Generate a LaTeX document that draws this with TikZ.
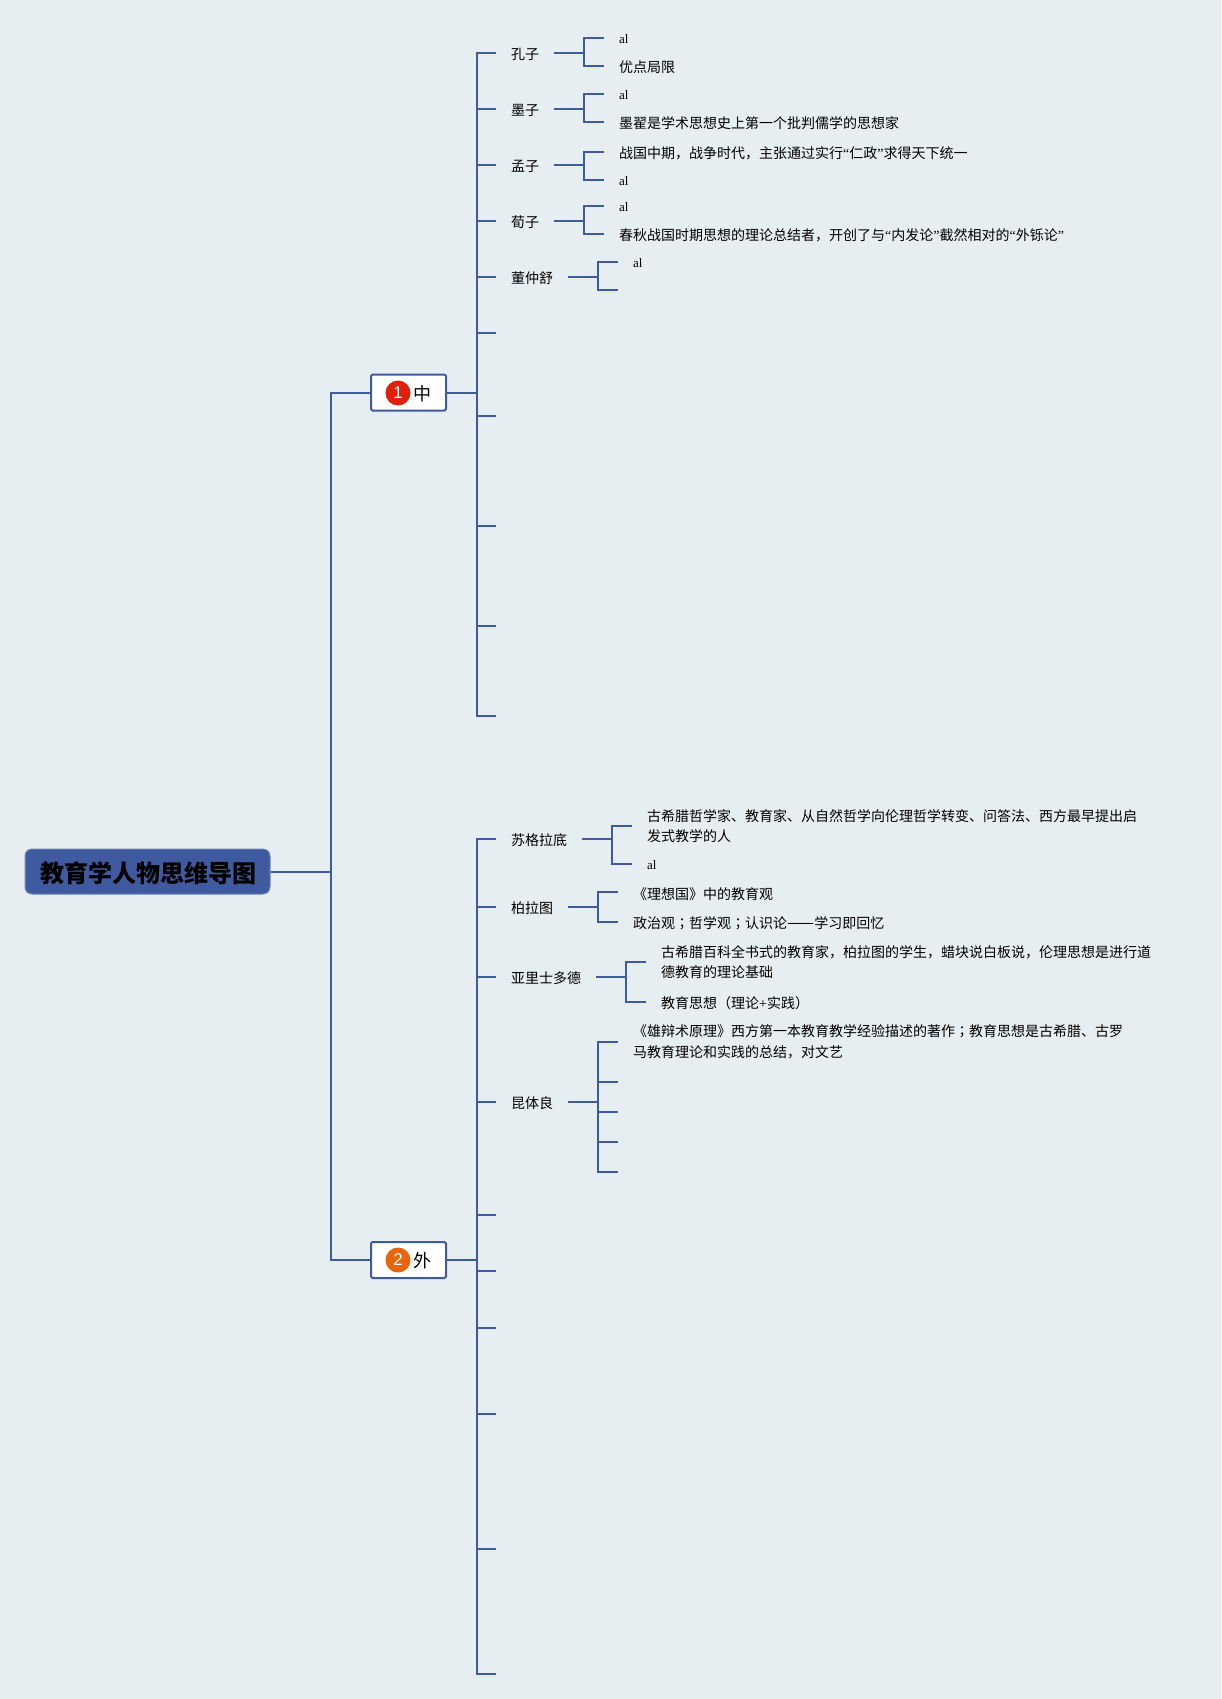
\documentclass[tikz,border=0pt]{standalone}
\usepackage{fontspec}
\setmainfont{Noto Sans CJK SC}
\newfontfamily\serifpart{Liberation Serif}
\newfontfamily\badgefont{Liberation Sans}
\newfontfamily\punctpart{Noto Sans CJK TC}
\usepackage{xcolor}
\usetikzlibrary{positioning}
\definecolor{mapbg}{HTML}{E6EEF2}
\definecolor{mapblue}{HTML}{3F5A9E}
\definecolor{rootedge}{HTML}{6F85BC}
\definecolor{badgered}{HTML}{E0200A}
\definecolor{badgeorange}{HTML}{E8650F}
\tikzset{
    maproot/.style={draw=rootedge, line width=1pt, fill=mapblue, rounded corners=7pt, minimum width=245pt, minimum height=45pt, inner sep=0pt, font=\fontsize{24}{28}\selectfont\bfseries},
    mapbranch/.style={draw=mapblue, line width=2pt, fill=white, rounded corners=1.5pt, minimum width=75pt, minimum height=36pt, inner sep=0pt},
    mapbadge/.style={circle, minimum size=25pt, inner sep=0pt, text=white, font=\badgefont\fontsize{17}{20}\selectfont},
    mapbranchtext/.style={inner sep=0pt, font=\fontsize{18}{22}\selectfont},
    mapname/.style={anchor=west, inner xsep=15pt, inner ysep=0pt, font=\fontsize{14}{20}\selectfont, execute at begin node={\rule{0pt}{14.3pt}}},
    mapleaf/.style={anchor=west, inner xsep=15pt, inner ysep=0pt, align=left, font=\fontsize{14}{20.5}\selectfont, execute at begin node={\rule{0pt}{14.3pt}}},
    maplong/.style={anchor=west, inner xsep=15pt, inner ysep=0pt, align=left, font=\fontsize{14}{20.5}\selectfont, execute at begin node={\rule{0pt}{16.3pt}}},
    mapal/.style={anchor=west, inner xsep=15pt, inner ysep=0pt, font=\serifpart\fontsize{13}{15}\selectfont, execute at begin node={\rule{0pt}{12pt}}},
    mapline/.style={draw=mapblue, line width=2pt}
}
\begin{document}
\begin{tikzpicture}[x=1pt, y=-1pt]
    \path[fill=mapbg, use as bounding box] (0,0) rectangle (1221,1699);

    \node[maproot] (root) at (147.5,871.5) {\hspace*{2pt}\raisebox{-2pt}[\height][\depth]{教育学人物思维导图}};

    \node[mapbranch] (zhong) at (408.5,392.5) {};
    \node[mapbadge, fill=badgered] (zhongno) at (398,393) {1};
    \node[mapbranchtext] (zhonglabel) at (422,394) {中};
    \node[mapbranch] (wai) at (408.5,1260) {};
    \node[mapbadge, fill=badgeorange] (waino) at (398,1260) {2};
    \node[mapbranchtext] (wailabel) at (422,1261) {外};

    \node[mapname] (kong) at (496,53) {孔子};
    \node[mapname] (mo) at (496,109) {墨子};
    \node[mapname] (meng) at (496,165) {孟子};
    \node[mapname] (xun) at (496,221) {荀子};
    \node[mapname] (dong) at (496,277) {董仲舒};
    \coordinate (zhongf) at (496,333);
    \coordinate (zhongg) at (496,416);
    \coordinate (zhongh) at (496,526);
    \coordinate (zhongi) at (496,626);
    \coordinate (zhongj) at (496,716);

    \node[mapal] (konga) at (604,38) {al};
    \node[mapleaf] (kongb) at (604,66) {优点局限};
    \node[mapal] (moa) at (604,94) {al};
    \node[mapleaf] (mob) at (604,122) {墨翟是学术思想史上第一个批判儒学的思想家};
    \node[mapleaf] (menga) at (604,152) {战国中期，战争时代，主张通过实行{\serifpart “}仁政{\serifpart ”}求得天下统一};
    \node[mapal] (mengb) at (604,180) {al};
    \node[mapal] (xuna) at (604,206) {al};
    \node[mapleaf] (xunb) at (604,234) {春秋战国时期思想的理论总结者，开创了与{\serifpart “}内发论{\serifpart ”}截然相对的{\serifpart “}外铄论{\serifpart ”}};
    \node[mapal] (donga) at (618,262) {al};
    \coordinate (dongb) at (618,290);

    \node[mapname] (su) at (496,839) {苏格拉底};
    \node[mapname] (bo) at (496,907) {柏拉图};
    \node[mapname] (ya) at (496,977) {亚里士多德};
    \node[mapname] (kun) at (496,1102) {昆体良};
    \coordinate (waie) at (496,1215);
    \coordinate (waif) at (496,1271);
    \coordinate (waig) at (496,1328);
    \coordinate (waih) at (496,1414);
    \coordinate (waii) at (496,1549);
    \coordinate (waij) at (496,1674);

    \node[maplong] (sua) at (632,826) {古希腊哲学家、教育家、从自然哲学向伦理哲学转变、问答法、西方最早提出启\\发式教学的人};
    \node[mapal] (sub) at (632,864) {al};
    \node[maplong] (boa) at (618,892) {《理想国》中的教育观};
    \node[mapleaf] (bob) at (618,922) {政治观{\punctpart ；}哲学观{\punctpart ；}认识论{\fontsize{16.2}{20}\selectfont ——}学习即回忆};
    \node[maplong] (yaa) at (646,962) {古希腊百科全书式的教育家，柏拉图的学生，蜡块说白板说，伦理思想是进行道\\德教育的理论基础};
    \node[mapleaf] (yab) at (646,1002) {教育思想（理论{\serifpart +}实践）};
    \node[maplong] (kuna) at (618,1042) {《雄辩术原理》西方第一本教育教学经验描述的著作{\punctpart ；}教育思想是古希腊、古罗\\马教育理论和实践的总结，对文艺};
    \coordinate (kunb) at (618,1082);
    \coordinate (kunc) at (618,1112);
    \coordinate (kund) at (618,1142);
    \coordinate (kune) at (618,1172);

    \draw[mapline] (root.east) -- ++(60,0) |- (zhong.west);
    \draw[mapline] (root.east) -- ++(60,0) |- (wai.west);

    \draw[mapline] (zhong.east) -- ++(30,0) |- (kong.west);
    \draw[mapline] (zhong.east) -- ++(30,0) |- (mo.west);
    \draw[mapline] (zhong.east) -- ++(30,0) |- (meng.west);
    \draw[mapline] (zhong.east) -- ++(30,0) |- (xun.west);
    \draw[mapline] (zhong.east) -- ++(30,0) |- (dong.west);
    \draw[mapline] (zhong.east) -- ++(30,0) |- (zhongf);
    \draw[mapline] (zhong.east) -- ++(30,0) |- (zhongg);
    \draw[mapline] (zhong.east) -- ++(30,0) |- (zhongh);
    \draw[mapline] (zhong.east) -- ++(30,0) |- (zhongi);
    \draw[mapline] (zhong.east) -- ++(30,0) |- (zhongj);

    \draw[mapline] (kong.east) -- ++(30,0) |- (konga.west);
    \draw[mapline] (kong.east) -- ++(30,0) |- (kongb.west);
    \draw[mapline] (mo.east) -- ++(30,0) |- (moa.west);
    \draw[mapline] (mo.east) -- ++(30,0) |- (mob.west);
    \draw[mapline] (meng.east) -- ++(30,0) |- (menga.west);
    \draw[mapline] (meng.east) -- ++(30,0) |- (mengb.west);
    \draw[mapline] (xun.east) -- ++(30,0) |- (xuna.west);
    \draw[mapline] (xun.east) -- ++(30,0) |- (xunb.west);
    \draw[mapline] (dong.east) -- ++(30,0) |- (donga.west);
    \draw[mapline] (dong.east) -- ++(30,0) |- (dongb);

    \draw[mapline] (wai.east) -- ++(30,0) |- (su.west);
    \draw[mapline] (wai.east) -- ++(30,0) |- (bo.west);
    \draw[mapline] (wai.east) -- ++(30,0) |- (ya.west);
    \draw[mapline] (wai.east) -- ++(30,0) |- (kun.west);
    \draw[mapline] (wai.east) -- ++(30,0) |- (waie);
    \draw[mapline] (wai.east) -- ++(30,0) |- (waif);
    \draw[mapline] (wai.east) -- ++(30,0) |- (waig);
    \draw[mapline] (wai.east) -- ++(30,0) |- (waih);
    \draw[mapline] (wai.east) -- ++(30,0) |- (waii);
    \draw[mapline] (wai.east) -- ++(30,0) |- (waij);

    \draw[mapline] (su.east) -- ++(30,0) |- (sua.west);
    \draw[mapline] (su.east) -- ++(30,0) |- (sub.west);
    \draw[mapline] (bo.east) -- ++(30,0) |- (boa.west);
    \draw[mapline] (bo.east) -- ++(30,0) |- (bob.west);
    \draw[mapline] (ya.east) -- ++(30,0) |- (yaa.west);
    \draw[mapline] (ya.east) -- ++(30,0) |- (yab.west);
    \draw[mapline] (kun.east) -- ++(30,0) |- (kuna.west);
    \draw[mapline] (kun.east) -- ++(30,0) |- (kunb);
    \draw[mapline] (kun.east) -- ++(30,0) |- (kunc);
    \draw[mapline] (kun.east) -- ++(30,0) |- (kund);
    \draw[mapline] (kun.east) -- ++(30,0) |- (kune);
\end{tikzpicture}
\end{document}
